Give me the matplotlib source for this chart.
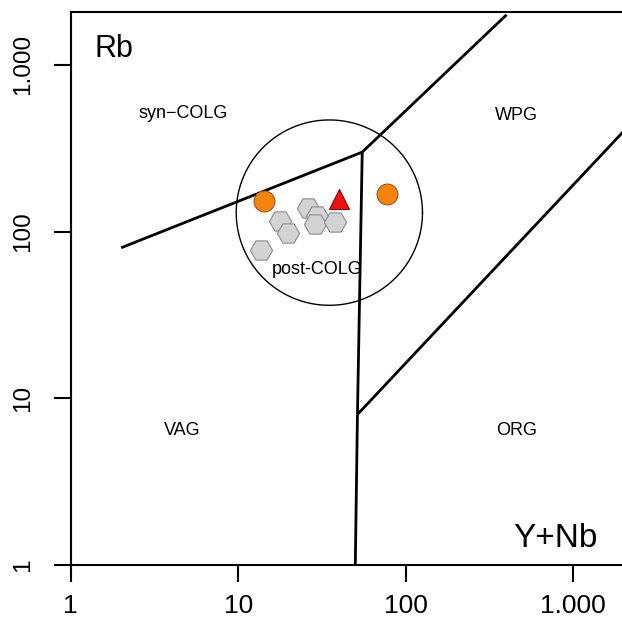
import numpy as np
import matplotlib
matplotlib.use("Agg")
import matplotlib.pyplot as plt

plt.rcParams['font.family'] = ['Liberation Sans', 'DejaVu Sans']

# Pearce et al. (1984) Rb vs Y+Nb boundaries
syn_vag_x = [2, 55]
syn_vag_y = [80, 300]
wpg_x = [55, 400]
wpg_y = [300, 2000]
vag_wpg_x = [55, 51.5]
vag_wpg_y = [300, 8]
org_wpg_x = [51.5, 2000]
org_wpg_y = [8, 400]
vag_org_x = [51.5, 50]
vag_org_y = [8, 1]

# post-COLG field (circle in log space)
post_center = (35.0, 130.0)
post_radius = 0.556  # decades

# samples
orange_x = [14.3, 77.0]
orange_y = [153, 168]
tri_x = [40.0]
tri_y = [156]
hex_x = [17.8, 19.8, 13.7, 26.0, 29.4, 28.7, 37.8]
hex_y = [116, 98, 77.6, 138, 124, 111, 115]

ticks = [1, 10, 100, 1000]
tick_labels = ["1", "10", "100", "1.000"]

fields = ["syn\u2212COLG", "WPG", "post-COLG", "VAG", "ORG"]
field_x = [4.68, 456, 29.5, 4.62, 462]
field_y = [514, 494, 58.9, 6.37, 6.37]

fig = plt.figure(figsize=(6.22, 6.22), dpi=100)
ax = fig.add_axes([70.7 / 622, 57 / 622, (622 - 70.7) / 622, 552.7 / 622])
ax.set_xscale('log')
ax.set_yscale('log')
ax.set_xlim(1, 1955)
ax.set_ylim(1, 2069)

lw = 2.0
for xs, ys in [(syn_vag_x, syn_vag_y), (wpg_x, wpg_y), (vag_wpg_x, vag_wpg_y),
               (org_wpg_x, org_wpg_y), (vag_org_x, vag_org_y)]:
    ax.plot(xs, ys, color='black', lw=lw, solid_capstyle='butt')

t = np.linspace(0, 2 * np.pi, 300)
cx, cy = np.log10(post_center[0]), np.log10(post_center[1])
ax.plot(10 ** (cx + post_radius * np.cos(t)), 10 ** (cy + post_radius * np.sin(t)),
        color='black', lw=1.0)

ax.plot(hex_x, hex_y, linestyle='none', marker='H', markersize=16,
        markerfacecolor='#D3D3D3', markeredgecolor='#8C8C8C', markeredgewidth=0.8)
ax.plot(orange_x, orange_y, linestyle='none', marker='o', markersize=15,
        markerfacecolor='#F7830F', markeredgecolor='#9A5A1E', markeredgewidth=0.8)
ax.plot(tri_x, tri_y, linestyle='none', marker='^', markersize=14,
        markerfacecolor='#EE1111', markeredgecolor='#8B0000', markeredgewidth=0.8)

for name, fx, fy in zip(fields, field_x, field_y):
    ax.text(fx, fy, name, fontsize=13, ha='center', va='center')

ax.text(0.044, 0.919, "Rb", transform=ax.transAxes, fontsize=22, ha='left', va='baseline')
ax.text(0.956, 0.0326, "Y+Nb", transform=ax.transAxes, fontsize=24, ha='right', va='baseline')

ax.set_xticks(ticks)
ax.set_xticklabels(tick_labels)
ax.set_yticks(ticks)
ax.set_yticklabels(tick_labels, rotation=90, va='center')
ax.minorticks_off()
ax.tick_params(axis='both', direction='out', length=12, width=1.5)
ax.tick_params(axis='x', labelsize=19, pad=9)
ax.tick_params(axis='y', labelsize=17.5, pad=14)
ax.spines['right'].set_visible(False)
for s in ['left', 'bottom', 'top']:
    ax.spines[s].set_linewidth(1.5)

fig.savefig("out.png", dpi=100)
